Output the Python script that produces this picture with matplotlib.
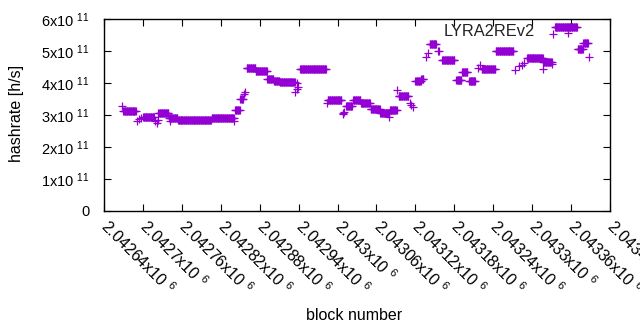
import numpy as np
import matplotlib
matplotlib.use("Agg")
import matplotlib.pyplot as plt

# plateaus of the estimated hashrate: first block, last block, value (x1e11 h/s)
seg_start = [2042670, 2042700, 2042724, 2042740, 2042754, 2042806, 2042842, 2042850,
             2042860, 2042874, 2042892, 2042902, 2042911, 2042942, 2042985, 2043013,
             2043024, 2043036, 2043051, 2043066, 2043081, 2043094, 2043120, 2043129,
             2043142, 2043161, 2043183, 2043192, 2043203, 2043222, 2043244, 2043292,
             2043317, 2043335, 2043370, 2043379]
seg_end = [2042689, 2042717, 2042739, 2042753, 2042805, 2042840, 2042849, 2042854,
           2042873, 2042891, 2042901, 2042910, 2042934, 2042982, 2043006, 2043022,
           2043035, 2043050, 2043065, 2043080, 2043091, 2043109, 2043128, 2043132,
           2043152, 2043180, 2043191, 2043200, 2043212, 2043243, 2043271, 2043316,
           2043330, 2043369, 2043378, 2043386]
seg_value = [3.14, 2.93, 3.05, 2.90, 2.83, 2.91, 3.15, 3.50,
             4.46, 4.37, 4.13, 4.07, 4.02, 4.43, 3.46, 3.28,
             3.46, 3.37, 3.19, 3.07, 3.15, 3.60, 4.05, 4.13,
             5.21, 4.71, 4.09, 4.33, 4.05, 4.45, 4.99, 4.77,
             4.65, 5.76, 5.05, 5.24]

# single blocks off the plateaus
odd_block = [2042668, 2042691, 2042694, 2042697, 2042718, 2042721, 2042723, 2042741,
             2042841, 2042856, 2042858, 2042935, 2042937, 2042938, 2042939, 2042983,
             2043008, 2043009, 2043010, 2043080, 2043092, 2043111, 2043114, 2043117,
             2043136, 2043139, 2043155, 2043157, 2043216, 2043220, 2043273, 2043280,
             2043285, 2043288, 2043316, 2043331, 2043332, 2043355, 2043388]
odd_value = [3.28, 2.80, 2.87, 2.90, 2.80, 2.74, 2.85, 2.80,
             2.82, 3.65, 3.72, 3.72, 3.80, 4.01, 3.87, 3.37,
             3.05, 3.02, 3.08, 2.95, 3.78, 3.37, 3.30, 3.24,
             4.82, 4.93, 5.01, 5.01, 4.46, 4.56, 4.41, 4.53,
             4.56, 4.62, 4.43, 4.58, 5.53, 5.57, 4.80]

xtick_values = np.arange(2042640, 2043421, 60)
ytick_values = [0, 1e11, 2e11, 3e11, 4e11, 5e11, 6e11]
ytick_labels = ["0"] + [f"{k}x10 $^{{11}}$" for k in range(1, 7)]

blocks, rates = [], []
for s, e, v in zip(seg_start, seg_end, seg_value):
    for b in range(s, e + 1):
        blocks.append(b)
        rates.append(v * 1e11)
blocks += odd_block
rates += [v * 1e11 for v in odd_value]

plt.rcParams["font.family"] = ["Liberation Sans", "DejaVu Sans"]
plt.rcParams["mathtext.default"] = "regular"

fig = plt.figure(figsize=(6.4, 3.3), dpi=100)
ax = fig.add_axes([104 / 640, 1 - 211 / 330, 506 / 640, 192 / 330])

purple = "#9400d3"
ax.plot(blocks, rates, ls="none", marker="+", ms=5.2, mew=0.9, color=purple)
# key sample, hidden in the top plateau like in the original
ax.plot([2043358], [5.75e11], ls="none", marker="+", ms=5.2, mew=0.9, color=purple)
ax.text(0.852, 0.935, "LYRA2REv2", transform=ax.transAxes, ha="right", va="center",
        fontsize=11.8, color="#222222")

ax.set_xlim(2042640, 2043420)
ax.set_ylim(0, 6e11)
ax.set_yticks(ytick_values)
ax.set_yticklabels(ytick_labels, fontsize=10.5)
ax.set_xticks(xtick_values)
xlabels = []
for v in xtick_values:
    m = f"{v / 1e6:.6f}".rstrip("0").rstrip(".")
    xlabels.append(m + "x10 $^{6}$")
ax.set_xticklabels(xlabels, rotation=-45, ha="left", va="center", fontsize=11.5,
                   rotation_mode="anchor")
ax.tick_params(direction="in", length=5, width=0.8, top=True, right=True)
ax.tick_params(axis="y", pad=10)
ax.tick_params(axis="x", pad=8.5)
for sp in ax.spines.values():
    sp.set_linewidth(1.0)

fig.text(17 / 640, 1 - 113 / 330, "hashrate [h/s]", rotation=90, ha="center",
         va="center", fontsize=11.5)
fig.text(354 / 640, 1 - 315 / 330, "block number", ha="center", va="center", fontsize=11.5)

fig.savefig("out.png", dpi=100)
